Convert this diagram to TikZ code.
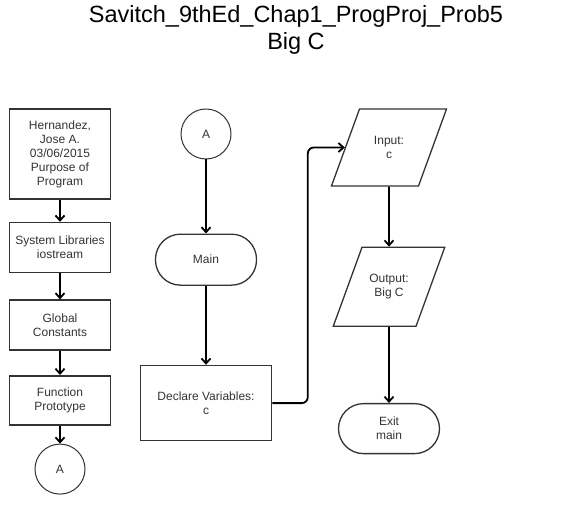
\documentclass[tikz,border=0pt]{standalone}
\usepackage{fontspec}
\setmainfont{Liberation Sans}
\usetikzlibrary{arrows.meta, positioning, shapes.geometric}

\begin{document}
\begin{tikzpicture}[
    x=1pt, y=-1pt,
    every node/.style={font=\fontsize{12}{14}\selectfont, text=black!80},
    box/.style={rectangle, draw=black!80, line width=1.6pt, minimum width=101pt, minimum height=50pt, align=center, inner sep=1pt},
    term/.style={rectangle, draw=black!80, line width=1.3pt, rounded corners=25pt, minimum width=101pt, minimum height=51pt, align=center},
    conn/.style={circle, draw=black!80, line width=1pt, minimum size=50pt, inner sep=0pt},
    io/.style={trapezium, trapezium left angle=70, trapezium right angle=110, draw=black!80, line width=1.3pt, inner sep=0pt},
    arrow/.style={-{Straight Barb[length=5pt, width=9pt]}, line width=1.8pt}
]
\useasboundingbox (0,0) rectangle (581,508);

\node[align=center, font=\fontsize{23.5}{27}\selectfont, text=black] (title) at (296,30) {Savitch\_9thEd\_Chap1\_ProgProj\_Prob5\\Big C};

\node[box, minimum height=90pt] (hdr) at (60,154) {Hernandez,\\Jose A.\\03/06/2015\\Purpose of\\Program};
\node[box, below=22pt of hdr] (syslib) {System Libraries\\iostream};
\node[box, below=26pt of syslib] (glob) {Global\\Constants};
\node[box, below=24pt of glob, minimum height=49pt] (proto) {Function\\Prototype};
\node[conn, below=18pt of proto] (conA) {A};

\node[conn] (conB) at (206,134) {A};
\node[term, below=74pt of conB] (mainnode) {Main};
\node[box, below=79pt of mainnode, minimum width=131pt, minimum height=75pt] (decl) {Declare Variables:\\c};

\node[io] (input) at (389,147.5) {\parbox[c][77pt][c]{59pt}{\centering Input:\\c}};
\node[io, below=60pt of input] (output) {\parbox[c][79pt][c]{54pt}{\centering Output:\\Big C}};
\node[term, below=76pt of output, minimum height=50pt] (exitnode) {Exit\\main};

\draw[arrow] (hdr) -- (syslib);
\draw[arrow] (syslib) -- (glob);
\draw[arrow] (glob) -- (proto);
\draw[arrow] (proto) -- (conA);

\draw[arrow] (conB) -- (mainnode);
\draw[arrow] (mainnode) -- (decl);
\draw[arrow, rounded corners=6pt] (decl.east) -| ([xshift=-37pt]input.west) -- (input.west);

\draw[arrow] (input) -- (output);
\draw[arrow] (output) -- (exitnode);

\end{tikzpicture}
\end{document}
